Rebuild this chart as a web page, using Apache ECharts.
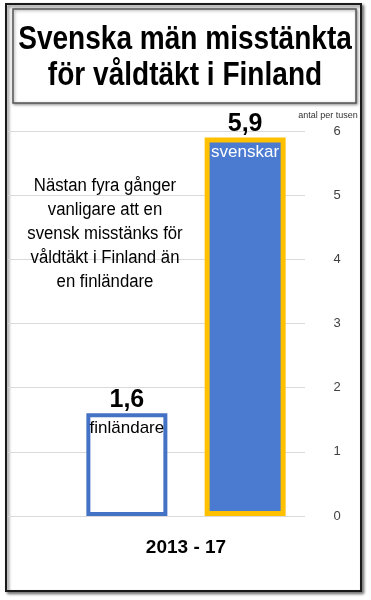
<!DOCTYPE html>
<html>
<head>
<meta charset="utf-8">
<script src="https://cdn.jsdelivr.net/npm/echarts@6/dist/echarts.min.js"></script>
<style>html,body{margin:0;padding:0;background:#fff}#c{width:371px;height:600px}</style>
</head>
<body>
<div id="c"></div>
<script>
const titleLines = ['Svenska män misstänkta', 'för våldtäkt i Finland'];
const categories = ['2013 - 17'];
const groupNames = ['finländare', 'svenskar'];
const finValues = [1.6];
const sveValues = [5.9];
const yMin = 0, yMax = 6, yStep = 1;
const unitLabel = 'antal per tusen';
const noteLines = ['Nästan fyra gånger', 'vanligare att en', 'svensk misstänks för', 'våldtäkt i Finland än', 'en finländare'];

const FONT = '"Liberation Sans", Arial, sans-serif';
const fmt = v => String(v).replace('.', ',');

const chart = echarts.init(document.getElementById('c'), null, {renderer: 'canvas'});

const gridTop = 131, gridBottom = 84;
const barW = 81, barGap = '46%';

const valueSeries = (name, data, fill, border, bw) => ({
  name, type: 'bar', xAxisIndex: 1, yAxisIndex: 1, data,
  barWidth: barW, barGap,
  itemStyle: {color: fill, borderColor: border, borderWidth: bw},
  label: {show: true, position: 'top', distance: 1, formatter: p => fmt(p.value),
    fontFamily: FONT, fontWeight: 'bold', fontSize: 25, color: '#000'}
});
const nameSeries = (name, data, color) => ({
  name: name + '_lbl', type: 'bar', xAxisIndex: 2, yAxisIndex: 2, data,
  barWidth: barW, barGap, silent: true,
  itemStyle: {color: 'rgba(0,0,0,0)'},
  label: {show: true, position: 'insideTop', distance: 6, formatter: () => name,
    fontFamily: FONT, fontSize: 17, color}
});

chart.setOption({
  animation: false,
  backgroundColor: '#fff',
  textStyle: {fontFamily: FONT},
  grid: [
    {left: 8, right: 66, top: gridTop, bottom: gridBottom},
    {left: 86, width: 200, top: gridTop, bottom: gridBottom},
    {left: 86, width: 200, top: gridTop, bottom: gridBottom}
  ],
  xAxis: [
    {gridIndex: 0, type: 'category', data: categories, show: false},
    {gridIndex: 1, type: 'category', data: categories,
      axisLine: {show: false}, axisTick: {show: false},
      axisLabel: {margin: 22, fontFamily: FONT, fontWeight: 'bold', fontSize: 19, color: '#000'}},
    {gridIndex: 2, type: 'category', data: categories, show: false}
  ],
  yAxis: [
    {gridIndex: 0, type: 'value', min: yMin, max: yMax, interval: yStep, position: 'right',
      axisLine: {show: false}, axisTick: {show: false},
      splitLine: {lineStyle: {color: '#d9d9d9', width: 1}},
      axisLabel: {align: 'center', margin: 32, fontFamily: FONT, fontSize: 13, color: '#404040'}},
    {gridIndex: 1, type: 'value', min: yMin, max: yMax, interval: yStep, show: false, splitLine: {show: false}},
    {gridIndex: 2, type: 'value', min: yMin, max: yMax, interval: yStep, show: false, splitLine: {show: false}}
  ],
  series: [
    valueSeries(groupNames[0], finValues, '#ffffff', '#4472C4', 4),
    valueSeries(groupNames[1], sveValues, '#4A7BD0', '#FFC000', 5),
    nameSeries(groupNames[0], finValues, '#000'),
    nameSeries(groupNames[1], sveValues, '#fff')
  ],
  graphic: [
    {type: 'rect', z: -10, shape: {x: 6, y: 4, width: 355, height: 587},
      style: {fill: '#fff', stroke: '#1a1a1a', lineWidth: 2, shadowBlur: 3, shadowOffsetX: 2, shadowOffsetY: 2, shadowColor: 'rgba(0,0,0,0.5)'}},
    {type: 'rect', z: 5, shape: {x: 13, y: 9, width: 343, height: 94},
      style: {fill: '#fff', stroke: '#555', lineWidth: 1.5, shadowBlur: 3, shadowOffsetX: 1, shadowOffsetY: 1, shadowColor: 'rgba(0,0,0,0.4)'}},
    {type: 'text', z: 6, x: 185, y: 40, scaleX: 0.85,
      style: {text: titleLines[0], font: 'bold 33px ' + FONT, fill: '#000', align: 'center', verticalAlign: 'middle'}},
    {type: 'text', z: 6, x: 185, y: 76, scaleX: 0.85,
      style: {text: titleLines[1], font: 'bold 33px ' + FONT, fill: '#000', align: 'center', verticalAlign: 'middle'}},
    {type: 'text', z: 6, x: 328, y: 116,
      style: {text: unitLabel, font: '9px ' + FONT, fill: '#333', align: 'center', verticalAlign: 'middle'}},
    {type: 'text', z: 6, x: 105, y: 186, scaleX: 0.93,
      style: {text: noteLines.join('\n'), font: '18px ' + FONT, lineHeight: 24, fill: '#000', align: 'center', verticalAlign: 'top', y: -12}}
  ]
});
</script>
</body>
</html>
